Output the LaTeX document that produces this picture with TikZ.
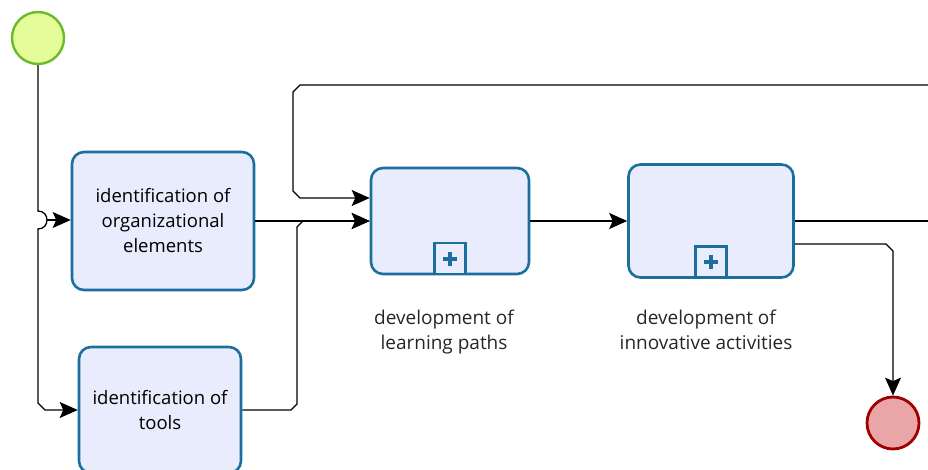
\documentclass[tikz,border=0pt]{standalone}
\usepackage{fontspec}
\setmainfont{Open Sans}
\usetikzlibrary{arrows.meta}
\definecolor{taskfill}{HTML}{E8ECFC}
\definecolor{taskline}{HTML}{1C6E9E}
\definecolor{startfill}{HTML}{E4FD99}
\definecolor{startline}{HTML}{6DB92E}
\definecolor{endfill}{HTML}{EAA6A6}
\definecolor{endline}{HTML}{A00000}

\begin{document}
\begin{tikzpicture}[x=1pt, y=-1pt,
    task/.style={draw=taskline, fill=taskfill, line width=2.6pt, rounded corners=12pt,
        align=center, inner sep=0pt, font=\fontsize{18.5}{25}\selectfont},
    marker/.style={draw=taskline, fill=taskfill, line width=2.6pt, minimum size=31pt, inner sep=0pt},
    flow/.style={draw=black, line width=1.3pt, -{Stealth[length=18pt, width=16pt, inset=3.5pt]}},
    seq/.style={draw=black, line width=1.3pt},
    caption/.style={align=center, font=\fontsize{19}{25}\selectfont, text=black!85}]
        \useasboundingbox (0,0) rectangle (928,470);

        % Events
        \node[circle, draw=startline, fill=startfill, line width=2.4pt, minimum size=52pt] (start) at (38,38) {};
        \node[circle, draw=endline, fill=endfill, line width=2.8pt, minimum size=52pt] (finish) at (893,423) {};

        % Tasks
        \node[task, minimum width=182pt, minimum height=138pt] (orgel) at (163,221) {identification of\\organizational\\elements};
        \node[task, minimum width=162pt, minimum height=126pt] (tools) at (160,410) {identification of\\tools};

        % Sub-processes
        \node[task, minimum width=158pt, minimum height=106pt] (paths) at (450,221) {};
        \node[marker, anchor=south] (pathsmark) at (paths.south) {};
        \node[caption] (pathslabel) at (444,332) {development of\\learning paths};

        \node[task, minimum width=165pt, minimum height=113pt] (innov) at (711,221) {};
        \node[marker, anchor=south] (innovmark) at (innov.south) {};
        \node[caption] (innovlabel) at (706,330) {development of\\innovative activities};

        % Plus signs
        \foreach \m in {pathsmark, innovmark} {
            \draw[taskline, line width=4pt] ([xshift=-7pt]\m.center) -- ([xshift=7pt]\m.center);
            \draw[taskline, line width=4pt] ([yshift=-7pt]\m.center) -- ([yshift=7pt]\m.center);
        }

        % Helper points
        \coordinate (hopa) at (38,211);
        \coordinate (hopb) at (38,229);
        \coordinate (hopc) at (47,220);
        \coordinate (join) at (297,221);
        \coordinate (loop) at (293,85);
        \coordinate (loopin) at (928,85);
        \coordinate (out) at (928,221);

        % Sequence flows
        \draw[flow] (start.south) -- (hopa) .. controls +(12,0) and +(12,0) .. (hopb)
            -- ([yshift=7pt]start.south |- tools.west) -- ([xshift=7pt]start.south |- tools.west) -- (tools.west);
        \draw[flow] (hopc) -- (orgel.west |- hopc);
        \draw[flow] (orgel.east) -- (paths.west);
        \draw[flow] (tools.east) -- ([xshift=-6pt]join |- tools.east) -- ([yshift=6pt]join |- tools.east)
            -- ([yshift=-6pt]join) -- ([xshift=6pt]join) -- (paths.west);
        \draw[flow] (loopin) -- ([xshift=7pt]loop) -- ([yshift=-7pt]loop)
            -- ([yshift=30pt]loop |- paths.west) -- ([xshift=7pt, yshift=23pt]loop |- paths.west)
            -- ([yshift=23pt]paths.west);
        \draw[flow] (paths.east) -- (innov.west);
        \draw[seq] (innov.east) -- (out);
        \draw[flow] ([yshift=-23pt]innov.east) -- ([xshift=-7pt, yshift=-23pt]finish.north |- innov.east)
            -- ([yshift=-30pt]finish.north |- innov.east) -- (finish.north);
\end{tikzpicture}
\end{document}
